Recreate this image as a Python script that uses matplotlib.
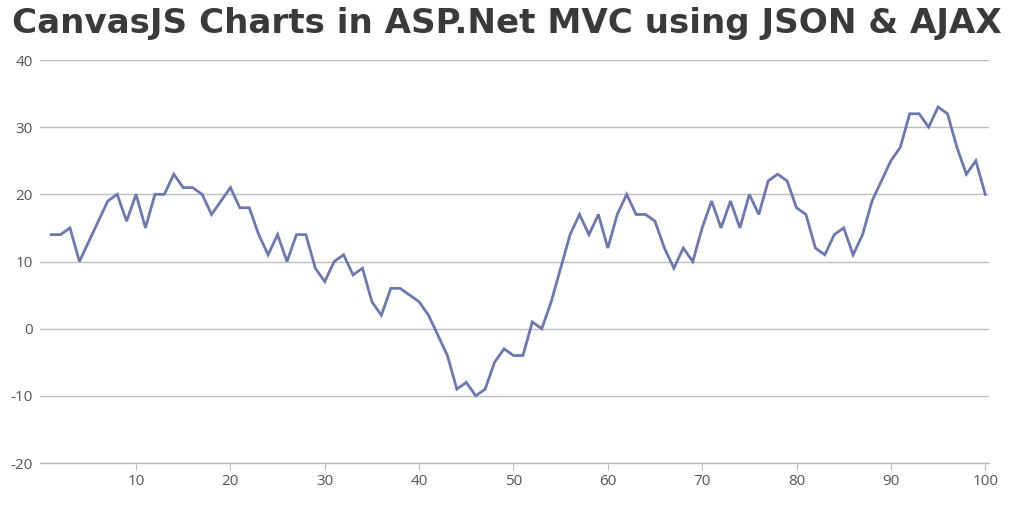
import matplotlib
matplotlib.use("Agg")
import matplotlib.pyplot as plt

# data
x_vals = list(range(1, 101))
y_vals = [
    14, 14, 15, 10, 13, 16, 19, 20, 16, 20,
    15, 20, 20, 23, 21, 21, 20, 17, 19, 21,
    18, 18, 14, 11, 14, 10, 14, 14, 9, 7,
    10, 11, 8, 9, 4, 2, 6, 6, 5, 4,
    2, -1, -4, -9, -8, -10, -9, -5, -3, -4,
    -4, 1, 0, 4, 9, 14, 17, 14, 17, 12,
    17, 20, 17, 17, 16, 12, 9, 12, 10, 15,
    19, 15, 19, 15, 20, 17, 22, 23, 22, 18,
    17, 12, 11, 14, 15, 11, 14, 19, 22, 25,
    27, 32, 32, 30, 33, 32, 27, 23, 25, 20,
]
y_ticks = [-20, -10, 0, 10, 20, 30, 40]
x_ticks = [10, 20, 30, 40, 50, 60, 70, 80, 90, 100]
title = "CanvasJS Charts in ASP.Net MVC using JSON & AJAX"

fig = plt.figure(figsize=(10.14, 5.05), dpi=100)
ax = fig.add_axes([40 / 1014, 1 - 463 / 505, 949 / 1014, 403 / 505])

ax.plot(x_vals, y_vals, color="#6D78AD", linewidth=2.0, solid_joinstyle="miter")

ax.set_xlim(-0.18, 100.4)
ax.set_ylim(-20, 40)
ax.set_yticks(y_ticks)
ax.set_xticks(x_ticks)
ax.set_yticklabels([str(v) for v in y_ticks])
ax.set_xticklabels([str(v) for v in x_ticks])

ax.grid(axis="y", color="#BDBDBD", linewidth=1.0)
ax.set_axisbelow(True)
for side in ["left", "right", "top"]:
    ax.spines[side].set_visible(False)
ax.spines["bottom"].set_color("#BDBDBD")
ax.spines["bottom"].set_linewidth(1.0)

ax.tick_params(axis="y", length=0, pad=5, labelsize=11, labelcolor="#555555")
ax.tick_params(axis="x", length=5, color="#BDBDBD", pad=3, labelsize=11, labelcolor="#555555")
for lbl in ax.get_xticklabels() + ax.get_yticklabels():
    lbl.set_family("Open Sans")

t = fig.text(0.5, 1 - 24 / 505, title, ha="center", va="center",
             fontsize=26, fontweight="bold", color="#3A3A3A", family="DejaVu Sans")
# squeeze title to the width it has in the reference (~990 px)
r = fig.canvas.get_renderer()
w = t.get_window_extent(renderer=r).width
t.set_fontsize(26 * 990 / w)

fig.savefig("out.png", dpi=100)
